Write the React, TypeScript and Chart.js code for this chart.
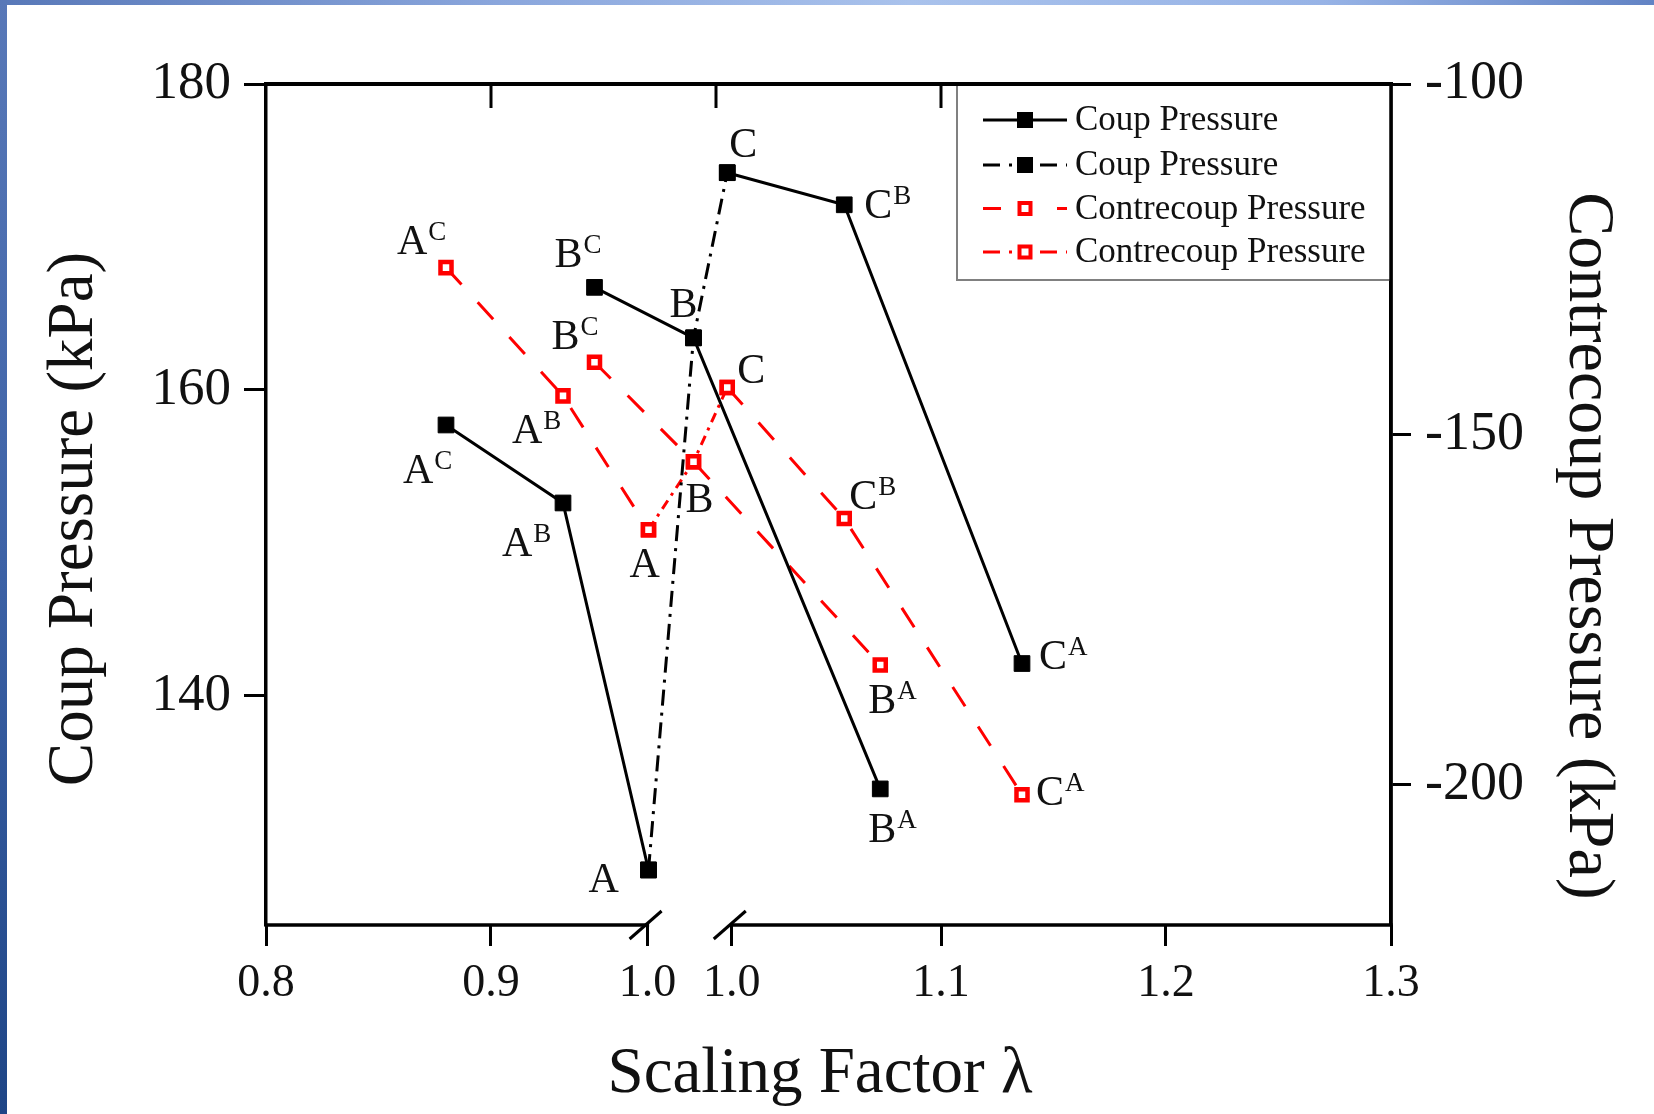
import React, { useEffect, useRef } from 'react';
import { Chart, registerables } from 'chart.js';

Chart.register(...registerables);

// ---------- data ----------
// x positions on the (broken) scaling-factor axis
const xGroupA = [0.88, 0.932, 0.97]; // A^C, A^B, A
const xGroupB = [0.946, 0.99, 1.073]; // B^C, B, B^A
const xGroupC = [1.005, 1.057, 1.136]; // C, C^B, C^A
const xBase = [0.97, 0.99, 1.005]; // A, B, C

// Coup pressure (left axis, kPa)
const coupA = [157.7, 152.6, 128.6];
const coupB = [166.7, 163.4, 133.9];
const coupC = [174.2, 172.1, 142.1];
const coupBase = [128.6, 163.4, 174.2];

// Contrecoup pressure (right axis, kPa)
const contreA = [-126.2, -144.5, -163.6];
const contreB = [-139.7, -153.9, -182.9];
const contreC = [-143.3, -162.0, -201.4];
const contreBase = [-163.6, -153.9, -143.3];

// point names [letter, superscript]
const namesA = [['A', 'C'], ['A', 'B'], ['A', '']];
const namesB = [['B', 'C'], ['B', ''], ['B', 'A']];
const namesC = [['C', ''], ['C', 'B'], ['C', 'A']];

// ticks
const xTickValues = [0.8, 0.9, 0.9696, 1.007, 1.1, 1.2, 1.3];
const xTickLabels = ['0.8', '0.9', '1.0', '1.0', '1.1', '1.2', '1.3'];
const xTopTickValues = [0.9, 1.0, 1.1, 1.2];
const xBreakValues = [0.9696, 1.007];
const yLeftTicks = [140, 160, 180];
const yRightTicks = [-200, -150, -100];

const legendItems = ['Coup Pressure', 'Coup Pressure', 'Contrecoup Pressure', 'Contrecoup Pressure'];
const xTitle = 'Scaling Factor λ';
const yLeftTitle = 'Coup Pressure (kPa)';
const yRightTitle = 'Contrecoup Pressure (kPa)';

// ---------- styles ----------
const SERIF = "'Liberation Serif', 'Times New Roman', serif";
const RED = '#ff0000';
const BLACK = '#000000';
const DASH_RED = [23, 24];
const DASHDOT = [16, 7, 3, 7];
const DASHDOT_RED = [10, 6, 3, 6];

// label offsets (px) from each point: [dx, dy] to letter's left/baseline
const coupOffsets = {
  A: [[-43, 58], [-61, 53], [-60, 22]],
  B: [[-40, -20], [-24, -21], [-12, 53]],
  C: [[2, -16], [20, 13], [17, 5]],
};
const contreOffsets = {
  A: [[-49, -14], [-51, 47], [-19, 47]],
  B: [[-43, -13], [-8, 50], [-12, 48]],
  C: [[10, -4], [5, -10], [14, 10]],
};

const pts = (xs: number[], ys: number[]) => xs.map((x, i) => ({ x, y: ys[i] }));

function line(ctx: CanvasRenderingContext2D, x1: number, y1: number, x2: number, y2: number) {
  ctx.beginPath();
  ctx.moveTo(x1, y1);
  ctx.lineTo(x2, y2);
  ctx.stroke();
}

const decorPlugin = {
  id: 'decor',
  afterDatasetsDraw(chart: any) {
    const ctx: CanvasRenderingContext2D = chart.ctx;
    chart.data.datasets.forEach((ds: any, i: number) => {
      if (!ds.ptNames) return;
      const meta = chart.getDatasetMeta(i);
      meta.data.forEach((pt: any, j: number) => {
        const [main, sup] = ds.ptNames[j];
        const [dx, dy] = ds.ptOffsets[j];
        const x = pt.x + dx;
        const y = pt.y + dy;
        ctx.save();
        ctx.fillStyle = '#111';
        ctx.textAlign = 'left';
        ctx.textBaseline = 'alphabetic';
        ctx.font = `42px ${SERIF}`;
        ctx.fillText(main, x, y);
        const w = ctx.measureText(main).width;
        if (sup) {
          ctx.font = `27px ${SERIF}`;
          ctx.fillText(sup, x + w + 1, y - 14);
        }
        ctx.restore();
      });
    });
  },
  afterDraw(chart: any) {
    const ctx: CanvasRenderingContext2D = chart.ctx;
    const { left, right, top, bottom } = chart.chartArea;
    const xs = chart.scales.x;
    ctx.save();
    ctx.strokeStyle = BLACK;
    ctx.lineCap = 'butt';
    ctx.setLineDash([]);

    // broken bottom axis
    const b1 = xs.getPixelForValue(xBreakValues[0]);
    const b2 = xs.getPixelForValue(xBreakValues[1]);
    ctx.lineWidth = 3.5;
    line(ctx, left - 1.75, bottom, b1 + 1.5, bottom);
    line(ctx, b2 - 1.5, bottom, right + 1.75, bottom);
    ctx.lineWidth = 3;
    [b1, b2].forEach((b) => line(ctx, b - 18, bottom + 14, b + 14, bottom - 14));

    // top ticks (inward)
    ctx.lineWidth = 3;
    xTopTickValues.forEach((v) => {
      const px = xs.getPixelForValue(v);
      line(ctx, px, top, px, top + 24);
    });

    // legend box
    const lx = 957;
    const ly = top;
    const lw = right - lx;
    const lh = 196;
    ctx.fillStyle = '#ffffff';
    ctx.fillRect(lx, ly, lw, lh);
    ctx.strokeStyle = '#808080';
    ctx.lineWidth = 2;
    ctx.strokeRect(lx, ly, lw, lh);

    const rowsY = [top + 36, top + 81, top + 124.5, top + 168];
    const x1 = lx + 26;
    const x2 = lx + 110;
    const mx = lx + 68;
    const dashes = [[], [17, 9, 3, 28], [18, 56], [17, 9, 3, 28]];
    const colors = [BLACK, BLACK, RED, RED];
    rowsY.forEach((ry, k) => {
      ctx.save();
      ctx.strokeStyle = colors[k];
      ctx.lineWidth = 3;
      ctx.setLineDash(dashes[k]);
      line(ctx, x1, ry, x2, ry);
      ctx.setLineDash([]);
      if (k < 2) {
        ctx.fillStyle = BLACK;
        ctx.fillRect(mx - 8, ry - 8, 16, 16);
      } else {
        ctx.fillStyle = '#ffffff';
        ctx.fillRect(mx - 6, ry - 6, 12, 12);
        ctx.strokeStyle = RED;
        ctx.lineWidth = 4;
        ctx.strokeRect(mx - 5.5, ry - 5.5, 11, 11);
      }
      ctx.fillStyle = '#111';
      ctx.font = `35px ${SERIF}`;
      ctx.textAlign = 'left';
      ctx.textBaseline = 'middle';
      ctx.fillText(legendItems[k], lx + 118, ry + 1);
      ctx.restore();
    });

    // top and right axis lines on top
    ctx.strokeStyle = BLACK;
    ctx.setLineDash([]);
    ctx.lineWidth = 4;
    line(ctx, left - 2, top, right + 2, top);
    ctx.lineWidth = 3.5;
    line(ctx, right, top, right, bottom);

    // axis titles
    ctx.fillStyle = '#111';
    ctx.textAlign = 'center';
    ctx.textBaseline = 'middle';
    ctx.font = `65px ${SERIF}`;
    ctx.fillText(xTitle, 820, 1075);

    ctx.save();
    ctx.translate(75, 519);
    ctx.rotate(-Math.PI / 2);
    ctx.fillText(yLeftTitle, 0, 0);
    ctx.restore();

    ctx.save();
    ctx.font = `66px ${SERIF}`;
    ctx.translate(1587, 546);
    ctx.rotate(Math.PI / 2);
    ctx.fillText(yRightTitle, 0, 0);
    ctx.restore();

    ctx.restore();
  },
};

export default function App() {
  const canvasRef = useRef<HTMLCanvasElement | null>(null);

  useEffect(() => {
    document.body.style.margin = '0';
    const canvas = canvasRef.current;
    if (!canvas) return;

    const blackSolid = (xs: number[], ys: number[], names: string[][], offs: number[][]) => ({
      data: pts(xs, ys),
      yAxisID: 'y',
      borderColor: BLACK,
      borderWidth: 3,
      pointStyle: 'rect',
      pointRadius: 11.1,
      pointBackgroundColor: BLACK,
      pointBorderColor: BLACK,
      pointBorderWidth: 1,
      ptNames: names,
      ptOffsets: offs,
      order: 1,
    });
    const redDashed = (xs: number[], ys: number[], names: string[][], offs: number[][]) => ({
      data: pts(xs, ys),
      yAxisID: 'y2',
      borderColor: RED,
      borderWidth: 3,
      borderDash: DASH_RED,
      pointStyle: 'rect',
      pointRadius: 7.8,
      pointBackgroundColor: '#ffffff',
      pointBorderColor: RED,
      pointBorderWidth: 4.5,
      ptNames: names,
      ptOffsets: offs,
      order: 2,
    });

    const chart = new Chart(canvas, {
      type: 'line',
      data: {
        datasets: [
          {
            data: pts(xBase, coupBase),
            yAxisID: 'y',
            borderColor: BLACK,
            borderWidth: 3,
            borderDash: DASHDOT,
            pointStyle: 'rect',
            pointRadius: 11.1,
            pointBackgroundColor: BLACK,
            pointBorderColor: BLACK,
            pointBorderWidth: 1,
            order: 3,
          } as any,
          {
            data: pts(xBase, contreBase),
            yAxisID: 'y2',
            borderColor: RED,
            borderWidth: 3,
            borderDash: DASHDOT_RED,
            pointStyle: 'rect',
            pointRadius: 7.8,
            pointBackgroundColor: '#ffffff',
            pointBorderColor: RED,
            pointBorderWidth: 4.5,
            order: 4,
          } as any,
          redDashed(xGroupA, contreA, namesA, contreOffsets.A) as any,
          redDashed(xGroupB, contreB, namesB, contreOffsets.B) as any,
          redDashed(xGroupC, contreC, namesC, contreOffsets.C) as any,
          blackSolid(xGroupA, coupA, namesA, coupOffsets.A) as any,
          blackSolid(xGroupB, coupB, namesB, coupOffsets.B) as any,
          blackSolid(xGroupC, coupC, namesC, coupOffsets.C) as any,
        ],
      },
      options: {
        animation: false,
        responsive: true,
        maintainAspectRatio: false,
        layout: { padding: { top: 84, left: 0, right: 0, bottom: 0 } },
        elements: { line: { tension: 0, fill: false } },
        plugins: { legend: { display: false }, tooltip: { enabled: false } },
        scales: {
          x: {
            type: 'linear',
            min: 0.8,
            max: 1.3,
            afterBuildTicks: (s: any) => {
              s.ticks = xTickValues.map((v) => ({ value: v }));
            },
            afterFit: (s: any) => {
              s.height = 189;
            },
            border: { display: false },
            grid: { drawOnChartArea: false, drawTicks: true, tickLength: 21, tickWidth: 3, tickColor: BLACK },
            ticks: {
              autoSkip: false,
              maxRotation: 0,
              padding: 10,
              color: '#111',
              font: { family: SERIF, size: 46 },
              callback: (_v: any, i: number) => xTickLabels[i],
            },
            title: { display: false },
          },
          y: {
            type: 'linear',
            position: 'left',
            min: 125,
            max: 180,
            afterBuildTicks: (s: any) => {
              s.ticks = yLeftTicks.map((v) => ({ value: v }));
            },
            afterFit: (s: any) => {
              s.width = 266;
            },
            border: { display: true, color: BLACK, width: 3.5 },
            grid: { drawOnChartArea: false, drawTicks: true, tickLength: 22, tickWidth: 3, tickColor: BLACK },
            ticks: {
              padding: 13,
              color: '#111',
              font: { family: SERIF, size: 53 },
              callback: (v: any) => String(v),
            },
            title: { display: false },
          },
          y2: {
            type: 'linear',
            position: 'right',
            min: -220,
            max: -100,
            afterBuildTicks: (s: any) => {
              s.ticks = yRightTicks.map((v) => ({ value: v }));
            },
            afterFit: (s: any) => {
              s.width = 263;
            },
            border: { display: true, color: BLACK, width: 3.5 },
            grid: { drawOnChartArea: false, drawTicks: true, tickLength: 20, tickWidth: 3, tickColor: BLACK },
            ticks: {
              padding: 14,
              color: '#111',
              font: { family: SERIF, size: 54 },
              callback: (v: any) => String(v),
            },
            title: { display: false },
          },
        },
      } as any,
      plugins: [decorPlugin as any],
    });

    return () => chart.destroy();
  }, []);

  return (
    <div style={{ position: 'relative', width: 1654, height: 1114, background: '#ffffff', overflow: 'hidden' }}>
      <div style={{ position: 'absolute', left: 0, top: 0, width: 1654, height: 1114 }}>
        <canvas ref={canvasRef} />
      </div>
      <div
        style={{
          position: 'absolute',
          left: 0,
          top: 0,
          width: 1654,
          height: 5,
          background: 'linear-gradient(to right, #5878b8 0%, #8aa6dc 30%, #a9c2ec 55%, #97b3e6 80%, #6283c4 100%)',
        }}
      />
      <div
        style={{
          position: 'absolute',
          left: 0,
          top: 0,
          width: 7,
          height: 1114,
          background: 'linear-gradient(to bottom, #5878b8 0%, #3d62a6 50%, #1e4586 100%)',
        }}
      />
    </div>
  );
}
